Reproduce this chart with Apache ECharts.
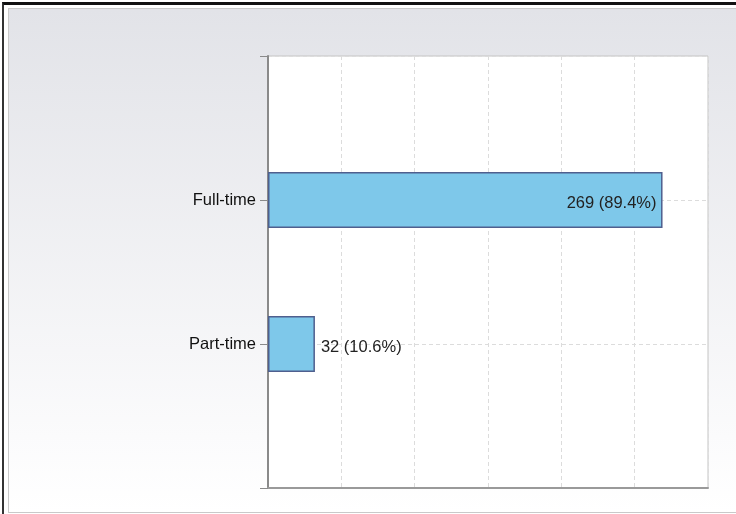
<!DOCTYPE html>
<html>
<head>
	<meta charset="utf-8">
	<title>Employment type</title>
	<script src="https://cdn.jsdelivr.net/npm/echarts@6/dist/echarts.min.js"></script>
	<style>
		html, body { margin: 0; padding: 0; background: #fff; }
		#frame {
			position: absolute; left: 2px; top: 2px; width: 734px; height: 512px;
			border-top: 3px solid #111; border-left: 2px solid #333;
			box-sizing: border-box;
		}
		#chart {
			position: absolute; left: 8px; top: 8px; width: 740px; height: 505px;
			border: 1px solid #c9c9c9; box-sizing: border-box;
			background: linear-gradient(#e2e3e8, #fbfbfc 85%, #ffffff);
		}
	</style>
</head>
<body>
	<div id="frame"></div>
	<div id="chart"></div>
	<script>
		// categories (padded with empty slots so the bars sit at 1/3 and 2/3)
		var categories = ['', 'Full-time', 'Part-time', ''];
		var counts = [null, 269, 32, null];
		var xTicks = [0, 50, 100, 150, 200, 250, 300];

		var total = 0;
		counts.forEach(function (v) { if (v) total += v; });

		var chart = echarts.init(document.getElementById('chart'));
		var option = {
			backgroundColor: 'transparent',
			animation: false,
			textStyle: { fontFamily: 'Liberation Sans' },
			grid: {
				left: 259, top: 47, width: 440, height: 432,
				show: true, backgroundColor: '#fff', borderColor: '#c4c4c4', borderWidth: 1
			},
			xAxis: {
				type: 'value',
				min: xTicks[0], max: xTicks[xTicks.length - 1], interval: 50,
				axisLabel: { show: false },
				axisTick: { show: false },
				axisLine: { show: true, lineStyle: { color: '#9a9a9a', width: 2 } },
				splitLine: { show: true, lineStyle: { color: '#dcdcdc', type: [4, 3] } }
			},
			yAxis: {
				type: 'category',
				inverse: true,
				boundaryGap: false,
				data: categories,
				axisLine: { show: true, lineStyle: { color: '#8a8a8a', width: 2 } },
				axisTick: { show: true, length: 8, lineStyle: { color: '#8a8a8a' } },
				axisLabel: { color: '#111', fontSize: 16.5, margin: 12, padding: [6, 0, 0, 0] },
				splitLine: { show: true, lineStyle: { color: '#dcdcdc', type: [4, 3] } }
			},
			series: [{
				type: 'bar',
				barWidth: 56,
				data: counts.map(function (v, i) {
					if (v === null) return null;
					return {
						value: v,
						label: { position: v > 150 ? 'insideRight' : 'right', distance: 6 }
					};
				}),
				itemStyle: { color: '#7ec8ea', borderColor: '#4f5f8e', borderWidth: 1.5 },
				label: {
					show: true, color: '#222', fontSize: 16.5, offset: [0, 3],
					formatter: function (p) {
						return p.value + ' (' + (p.value / total * 100).toFixed(1) + '%)';
					}
				}
			}]
		};
		chart.setOption(option);
	</script>
</body>
</html>
